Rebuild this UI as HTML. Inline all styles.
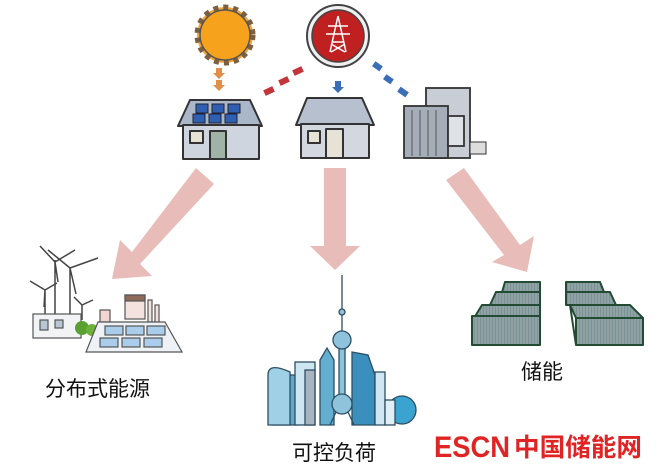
<!DOCTYPE html>
<html><head><meta charset="utf-8"><style>
html,body{margin:0;padding:0;background:#fff;width:660px;height:471px;overflow:hidden}
svg{display:block}
text{font-family:"Liberation Sans","Noto Sans CJK SC",sans-serif}
</style></head><body>
<svg width="660" height="471" viewBox="0 0 660 471" xmlns="http://www.w3.org/2000/svg">
<defs>
<pattern id="st" width="3" height="3" patternUnits="userSpaceOnUse"><rect width="3" height="3" fill="#8fa3a5"/><rect width="1" height="3" fill="#7d9294"/></pattern>
</defs>
<!-- big pink arrows -->
<g fill="#e8bcb8">
<polygon points="196,168 214,184 140,264 152,276 112,279 120,240 132,252 "/>
<polygon points="324,168 346,168 346,246 360,246 335,270 310,246 324,246"/>
<polygon points="446,180 464,168 520,245 534,236 527,272 492,262 504,255"/>
</g>
<!-- sun -->
<circle cx="225" cy="35" r="28" fill="#f3a53a" stroke="#7a6040" stroke-width="5" stroke-dasharray="5 5"/>
<circle cx="225" cy="35" r="25" fill="#f7a21c" stroke="#555" stroke-width="1.5"/>
<!-- sun arrows -->
<g fill="#e0904a"><polygon points="216,68 222,68 222,73 225,73 219,79 213,73 216,73"/><polygon points="216,80 222,80 222,85 225,85 219,91 213,85 216,85"/></g>
<!-- tower circle -->
<circle cx="338" cy="36" r="31" fill="#f0f0f0" stroke="#444" stroke-width="2"/>
<circle cx="338" cy="36" r="26" fill="#c0201f" stroke="#444" stroke-width="1.5"/>
<g stroke="#fff" stroke-width="1.5" fill="none"><path d="M338,16 L330,52 M338,16 L346,52 M328,26 H348 M326,34 H350 M332,42 H344 M331,44 L345,52 M345,44 L331,52"/></g>
<!-- red dotted arrows -->
<g fill="#c2353a"><rect x="264" y="88" width="10" height="6" transform="rotate(-25 269 91)"/><rect x="279" y="78" width="10" height="6" transform="rotate(-25 284 81)"/><rect x="293" y="68" width="10" height="6" transform="rotate(-25 298 71)"/></g>
<!-- blue arrows -->
<g fill="#3a6fb7"><polygon points="335,81 341,81 341,87 344,87 338,93 332,87 335,87"/><rect x="373" y="63" width="9" height="6" transform="rotate(35 377 66)"/><rect x="384" y="76" width="9" height="6" transform="rotate(35 388 79)"/><rect x="398" y="89" width="10" height="6" transform="rotate(35 403 92)"/></g>
<!-- left house -->
<g stroke="#333" stroke-width="2" stroke-linejoin="round">
<polygon points="190,100 250,100 262,126 178,126" fill="#a9b7c9"/>
<rect x="183" y="125" width="76" height="34" fill="#cfd5df"/>
<rect x="190" y="131" width="13" height="12" fill="#e6e2d6"/>
<rect x="210" y="131" width="16" height="28" fill="#9fb4a6"/>
</g>
<g fill="#2f5fb0" stroke="#223" stroke-width="1"><rect x="196" y="104" width="12" height="9"/><rect x="212" y="104" width="12" height="9"/><rect x="228" y="104" width="12" height="9"/><rect x="193" y="114" width="12" height="9"/><rect x="209" y="114" width="12" height="9"/><rect x="225" y="114" width="12" height="9"/></g>
<!-- middle house -->
<g stroke="#333" stroke-width="2" stroke-linejoin="round">
<polygon points="307,98 362,98 374,125 296,125" fill="#b7c0cf"/>
<rect x="301" y="124" width="68" height="34" fill="#d3d8e0"/>
<rect x="308" y="131" width="12" height="12" fill="#e6e2d6"/>
<rect x="326" y="129" width="17" height="29" fill="#e6e2d6"/>
</g>
<!-- office building -->
<g stroke="#333" stroke-width="1.8">
<rect x="426" y="88" width="44" height="70" fill="#c9ced6"/>
<rect x="404" y="106" width="44" height="52" fill="#a5adb8"/>
<path d="M412,110 V156 M420,110 V156 M428,110 V156 M436,110 V156" stroke="#555" stroke-width="1"/>
<rect x="448" y="116" width="16" height="30" fill="#dfe3e8"/>
<rect x="470" y="142" width="16" height="12" fill="#ddd" stroke-width="1"/>
</g>
<!-- distributed energy -->
<g stroke="#444" stroke-width="1.5" fill="none">
<path d="M55,320 V260 M55,262 L40,246 M55,262 L75,250 M55,262 L58,282"/>
<path d="M70,320 V268 M70,268 L48,250 M70,268 L98,258 M70,268 L76,294"/>
<path d="M45,320 V290 M45,290 L30,281 M45,290 L57,283 M45,290 L44,307"/>
<path d="M82,320 V305 M82,305 L74,297 M82,305 L93,300"/>
</g>
<g stroke="#555" stroke-width="1.2">
<rect x="33" y="314" width="48" height="24" fill="#f1f3f5"/>
<rect x="40" y="320" width="8" height="10" fill="#b8c6d3"/>
<rect x="55" y="320" width="8" height="8" fill="#b8c6d3"/>
</g>
<circle cx="82" cy="328" r="7" fill="#5aa032"/><circle cx="92" cy="330" r="6" fill="#6cb23a"/>
<g stroke="#555" stroke-width="1.2">
<rect x="125" y="295" width="20" height="24" fill="#f3e2de"/><rect x="125" y="295" width="20" height="6" fill="#8d6a5a"/>
<rect x="148" y="300" width="4" height="22" fill="#f3e2de"/><rect x="155" y="305" width="4" height="18" fill="#f3e2de"/>
<rect x="100" y="310" width="10" height="12" fill="#f2d6d2"/>
<polygon points="98,322 165,322 182,352 86,352" fill="#eef2f6"/>
<rect x="105" y="326" width="18" height="9" fill="#a9cdea"/><rect x="126" y="326" width="18" height="9" fill="#a9cdea"/><rect x="147" y="326" width="18" height="9" fill="#a9cdea"/>
<rect x="100" y="338" width="18" height="9" fill="#a9cdea"/><rect x="122" y="338" width="18" height="9" fill="#a9cdea"/><rect x="144" y="338" width="18" height="9" fill="#a9cdea"/>
</g>
<text x="45" y="396" font-size="21" fill="#111">分布式能源</text>
<!-- city -->
<g stroke="#2c4f63" stroke-width="1.3">
<rect x="272" y="375" width="25" height="50" fill="#5fa8c8"/>
<path d="M268,425 V375 Q268,362 290,372 V425Z" fill="#9fd0e6"/>
<rect x="295" y="362" width="20" height="63" fill="#cde6f2"/>
<rect x="305" y="370" width="10" height="55" fill="#a9b4c3"/>
<polygon points="320,360 327,348 334,360 334,425 320,425" fill="#64aed0"/>
<polygon points="352,352 368,355 375,375 375,425 352,425" fill="#3b8fbc"/>
<rect x="375" y="372" width="10" height="53" fill="#cfe7f2"/>
<circle cx="402" cy="410" r="14" fill="#3aa3d0"/>
<rect x="385" y="400" width="10" height="25" fill="#e2eef5"/>
<line x1="342" y1="275" x2="342" y2="335"/>
<rect x="339" y="345" width="6" height="55" fill="#8fc3dc"/>
<circle cx="342" cy="340" r="9" fill="#8fc3dc"/>
<circle cx="342" cy="312" r="3" fill="#8fc3dc"/>
<circle cx="342" cy="404" r="10" fill="#8fc3dc"/>
<path d="M336,412 L330,425 M348,412 L354,425" fill="none"/>
</g>
<text x="292" y="460" font-size="21" fill="#111">可控负荷</text>
<!-- storage -->
<g stroke="#234a33" stroke-width="2" fill="url(#st)" stroke-linejoin="round">
<polygon points="505,282 540,282 540,292 502,292"/>
<polygon points="496,292 540,292 540,305 490,305"/>
<polygon points="482,305 540,305 540,318 474,318"/>
<rect x="472" y="316" width="68" height="29"/>
<polygon points="566,282 600,282 604,292 566,292"/>
<polygon points="566,292 610,292 616,305 566,305"/>
<polygon points="570,305 630,305 643,318 576,318"/>
<rect x="576" y="318" width="67" height="27"/>
<line x1="570" y1="305" x2="576" y2="345"/>
</g>
<text x="521" y="379" font-size="21" fill="#111">储能</text>
<!-- logo -->
<text x="434" y="457" font-size="30" font-weight="bold" fill="#e02424" textLength="76" lengthAdjust="spacingAndGlyphs">ESCN</text>
<text x="514" y="456" font-size="25" font-weight="bold" fill="#e02424" textLength="128" lengthAdjust="spacingAndGlyphs">中国储能网</text>
</svg>
</body></html>
